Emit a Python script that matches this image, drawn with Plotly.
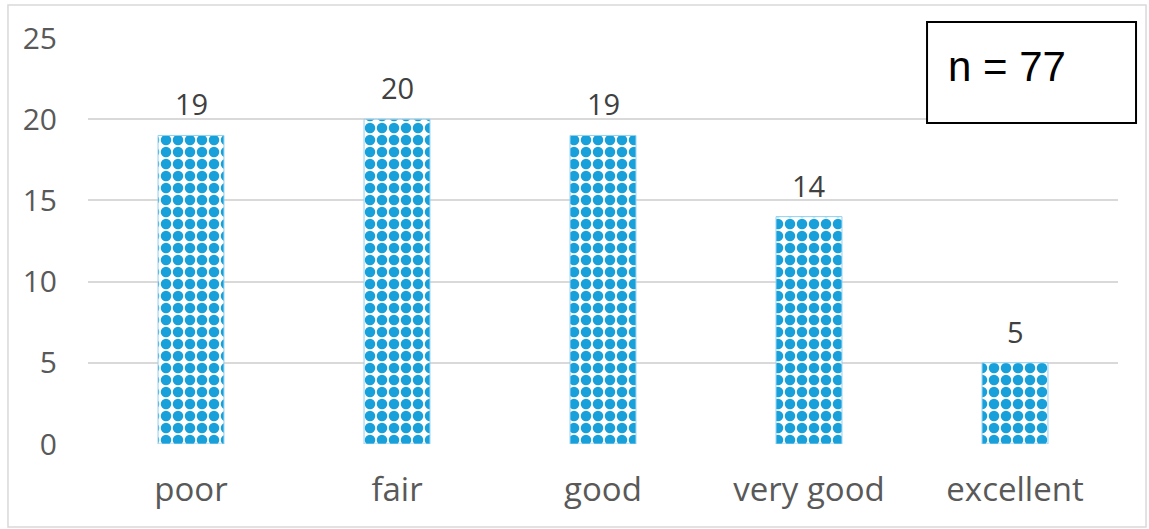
import plotly.graph_objects as go

# Ratings and how many respondents chose each
categories = ["poor", "fair", "good", "very good", "excellent"]
counts = [19, 20, 19, 14, 5]
y_ticks = [0, 5, 10, 15, 20, 25]
sample_label = "n = 77"

BLUE = "#18a0db"
TEXT = "#595959"
FONT = "Open Sans"

fig = go.Figure(
    go.Bar(
        x=categories,
        y=counts,
        width=0.32,
        marker=dict(
            color=BLUE,
            line=dict(color="#8fd0ee", width=1),
            pattern=dict(shape=".", fgcolor=BLUE, bgcolor="white",
                         size=12, solidity=0.6, fillmode="replace"),
        ),
        hoverinfo="skip",
    )
)

# value labels above each bar
for cat, val in zip(categories, counts):
    fig.add_annotation(
        x=cat, y=val, text=str(val), showarrow=False,
        yanchor="bottom", yshift=10,
        font=dict(family=FONT, size=29, color="#404040"),
    )

# sample-size box in the upper right
fig.add_shape(type="rect", xref="paper", yref="paper",
              x0=0.8146, x1=1.0175, y0=0.7906, y1=1.0394,
              line=dict(color="black", width=2), fillcolor="white", layer="above")
fig.add_annotation(xref="paper", yref="paper", x=0.833, y=0.9286,
                   xanchor="left", yanchor="middle", showarrow=False,
                   text=sample_label,
                   font=dict(family="Liberation Sans", size=42, color="black"))

# chart frame
fig.add_shape(type="rect", xref="paper", yref="paper",
              x0=-0.0777, x1=1.0272, y0=-0.2044, y1=1.0813,
              line=dict(color="#d9d9d9", width=1.5), layer="below")

fig.update_layout(
    width=1149, height=529,
    margin=dict(l=88, r=31, t=38, b=85),
    paper_bgcolor="white", plot_bgcolor="white",
    showlegend=False,
    bargap=0.68,
    xaxis=dict(
        showgrid=False, showline=False, zeroline=False,
        tickfont=dict(family=FONT, size=33, color=TEXT),
        ticks="outside", ticklen=16, tickcolor="rgba(0,0,0,0)",
    ),
    yaxis=dict(
        range=[0, 25], tickvals=y_ticks,
        showgrid=True, gridcolor="#d9d9d9", gridwidth=1.5,
        zeroline=False, showline=False,
        tickfont=dict(family=FONT, size=30, color=TEXT),
        ticks="outside", ticklen=24, tickcolor="rgba(0,0,0,0)",
    ),
)

fig.write_html("out.html")
